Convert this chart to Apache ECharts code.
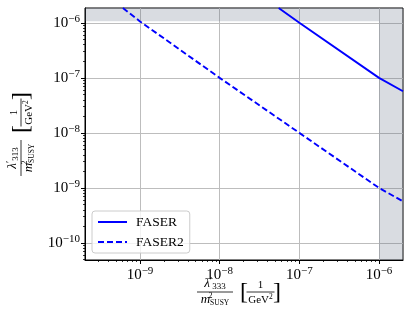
<!DOCTYPE html>
<html>
<head>
<meta charset="utf-8">
<script src="https://cdn.jsdelivr.net/npm/echarts@6/dist/echarts.min.js"></script>
<style>
  html, body { margin: 0; padding: 0; background: #fff; }
  #chart { width: 411px; height: 324px; }
</style>
</head>
<body>
<div id="chart"></div>
<script>
// 数据
const faserX = [5.5e-8, 1e-7, 1e-6, 2e-6];
const faserY = [1.86e-6, 1e-6, 1e-7, 5.7e-8];
const faser2X = [6.1e-10, 1e-9, 1e-8, 1e-7, 1e-6, 2e-6];
const faser2Y = [1.86e-6, 1.06e-6, 1e-7, 1e-8, 1e-9, 5.7e-10];

// 轴范围与刻度
const xRange = [2.04e-10, 2.0e-6];
const yRange = [4.9e-11, 1.86e-6];
const xTickExp = [-9, -8, -7, -6];
const yTickExp = [-10, -9, -8, -7, -6];
// 灰色区域：y 上方和 x 右侧
const bandY = 1.07e-6;
const bandX = 1e-6;

const serif = 'Liberation Serif';
const zip = (xs, ys) => xs.map((x, i) => [x, ys[i]]);
const pow10 = e => Math.pow(10, e);

// 次刻度 2..9 x 10^n
function minorTicks(range) {
  const out = [];
  for (let d = -12; d <= -5; d++) {
    for (let k = 2; k <= 9; k++) {
      const v = k * pow10(d);
      if (v > range[0] && v < range[1]) out.push(v);
    }
  }
  return out;
}

const tickRich = {
  b: { fontFamily: serif, fontSize: 15, color: '#000' },
  e: { fontFamily: serif, fontSize: 11, color: '#000', padding: [0, 0, 8, 0] }
};
const tickFmt = v => '{b|10}{e|−' + Math.abs(Math.round(Math.log10(v))) + '}';

function mainAxis(range, exps, margin) {
  const vals = exps.map(pow10);
  return {
    type: 'log', logBase: 10, min: range[0], max: range[1],
    axisLine: { show: true, onZero: false, lineStyle: { color: '#000', width: 1 } },
    axisTick: { show: true, length: 4, customValues: vals, lineStyle: { color: '#000', width: 1 } },
    axisLabel: { customValues: vals, formatter: tickFmt, rich: tickRich, margin: margin },
    splitLine: { show: true, lineStyle: { color: '#bdbdbd', width: 1 } },
    minorTick: { show: false }
  };
}
function minorAxis(range, pos) {
  return {
    type: 'log', logBase: 10, min: range[0], max: range[1], position: pos,
    axisLine: { show: false },
    axisTick: { show: true, length: 2, customValues: minorTicks(range), lineStyle: { color: '#000', width: 0.8 } },
    axisLabel: { show: false },
    splitLine: { show: false }
  };
}

// 坐标轴标题  λ'/m² [1/GeV²]
function fracLabel(cx, cy, rot, sub) {
  const t = (x, y, text, fs, align, va, rich, italic) => ({
    type: 'text', x: x, y: y,
    style: {
      text: text, fill: '#000', align: align, verticalAlign: va,
      font: (italic ? 'italic ' : '') + fs + 'px "' + serif + '"',
      rich: rich
    }
  });
  const ln = (x1, x2) => ({
    type: 'line', shape: { x1: x1, y1: 0, x2: x2, y2: 0 },
    style: { stroke: '#000', lineWidth: 0.8 }
  });
  const richNum = {
    i: { fontFamily: serif, fontStyle: 'italic', fontSize: 13 },
    p: { fontFamily: serif, fontSize: 10, padding: [0, 0, 5, 0] },
    s: { fontFamily: serif, fontSize: 9, padding: [6, 0, 0, 0] }
  };
  const richDen = {
    i: { fontFamily: serif, fontStyle: 'italic', fontSize: 13 },
    s: { fontFamily: serif, fontSize: 7.5, padding: [6, 0, 0, 0] }
  };
  const richGev = {
    n: { fontFamily: serif, fontSize: 11 },
    s: { fontFamily: serif, fontSize: 7.5, padding: [0, 0, 6, 0] }
  };
  return {
    type: 'group', x: cx, y: cy, rotation: rot,
    children: [
      t(-24, -1, '{i|λ}{p|′}{s|' + sub + '}', 13, 'center', 'bottom', richNum),
      ln(-42, -6),
      t(-24, 1, '{i|m}{s|SUSY}', 13, 'center', 'top', richDen),
      t(-30.5, 0, '2', 8, 'left', 'top'),
      t(1, 0.5, '[', 24, 'left', 'middle'),
      t(42, 0.5, ']', 24, 'right', 'middle'),
      ln(7.5, 35.5),
      t(21.5, -1, '1', 11, 'center', 'bottom'),
      t(21.5, 1, '{n|GeV}{s|2}', 11, 'center', 'top', richGev)
    ]
  };
}

const chart = echarts.init(document.getElementById('chart'), null, { renderer: 'canvas' });
chart.setOption({
  animation: false,
  backgroundColor: '#fff',
  grid: { left: 85, right: 8, top: 8, bottom: 64, show: true, borderColor: '#000', borderWidth: 1, backgroundColor: '#fff' },
  xAxis: [mainAxis(xRange, xTickExp, 6), minorAxis(xRange, 'bottom')],
  yAxis: [mainAxis(yRange, yTickExp, 5), minorAxis(yRange, 'left')],
  legend: {
    left: 92, top: 211, orient: 'vertical',
    padding: [4, 6, 4, 5], itemWidth: 29, itemHeight: 14, itemGap: 6,
    borderColor: '#cccccc', borderWidth: 1, borderRadius: 3,
    backgroundColor: 'rgba(255,255,255,0.8)',
    itemStyle: { opacity: 0 },
    textStyle: { fontFamily: serif, fontSize: 13.5, color: '#000', padding: [0, 0, 0, 4] },
    data: ['FASER', 'FASER2']
  },
  graphic: [
    fracLabel(239, 292, 0, '333'),
    fracLabel(21, 134, Math.PI / 2, '313')
  ],
  series: [
    {
      name: 'FASER', type: 'line', symbol: 'none', z: 3,
      data: zip(faserX, faserY),
      lineStyle: { color: '#0000ff', width: 1.9 },
      itemStyle: { color: '#0000ff' },
      markArea: {
        silent: true,
        itemStyle: { color: 'rgba(90,105,125,0.23)' },
        data: [
          [{ coord: [xRange[0], bandY] }, { coord: [bandX, yRange[1]] }],
          [{ coord: [bandX, yRange[0]] }, { coord: [xRange[1], yRange[1]] }]
        ]
      }
    },
    {
      name: 'FASER2', type: 'line', symbol: 'none', z: 3,
      data: zip(faser2X, faser2Y),
      lineStyle: { color: '#0000ff', width: 1.9, type: [6, 3] },
      itemStyle: { color: '#0000ff' }
    }
  ]
});
</script>
</body>
</html>
